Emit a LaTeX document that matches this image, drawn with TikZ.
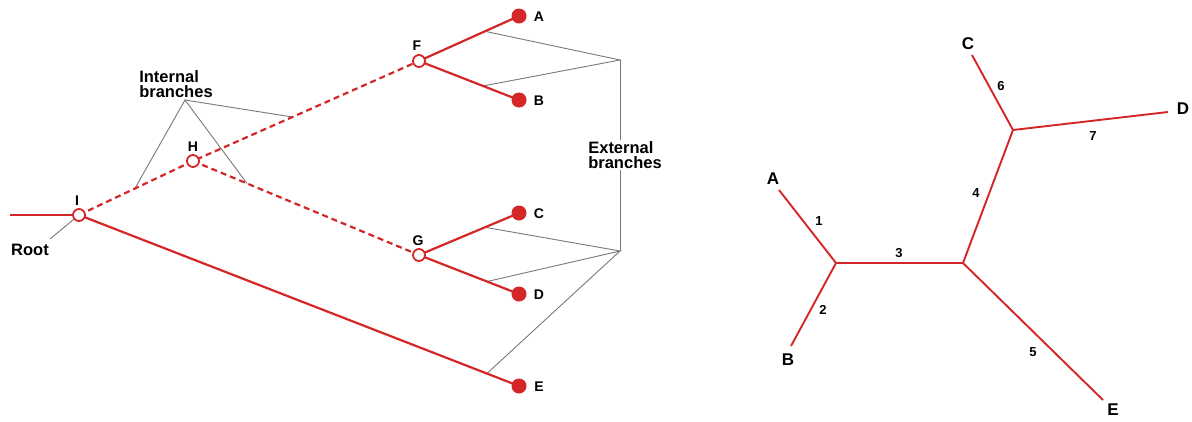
\documentclass[tikz,border=0pt]{standalone}
\usepackage{fontspec}
\setmainfont{Liberation Sans}
\usetikzlibrary{calc}
\definecolor{treered}{RGB}{212,38,38}
\definecolor{guide}{RGB}{120,120,120}
\tikzset{
  branch/.style={draw=treered, line width=2.2pt},
  dashbranch/.style={branch, dash pattern=on 6pt off 4pt},
  guideline/.style={draw=guide, line width=0.9pt},
  inner/.style={circle, draw=treered, fill=white, line width=1.8pt, minimum size=12pt, inner sep=0pt},
  leaf/.style={circle, fill=treered, minimum size=15pt, inner sep=0pt},
  tag/.style={font=\bfseries\fontsize{14}{15}\selectfont, inner sep=1pt},
  note/.style={font=\bfseries\fontsize{16.5}{15}\selectfont, inner sep=1pt, align=left},
  bigtag/.style={font=\bfseries\fontsize{17}{18}\selectfont, inner sep=1pt},
  num/.style={font=\bfseries\fontsize{13}{14}\selectfont, inner sep=1pt},
  utree/.style={draw=treered, line width=1.9pt}
}
\begin{document}
\begin{tikzpicture}[x=1pt,y=-1pt]
\useasboundingbox (0,0) rectangle (1192,421);

% ---------- rooted tree ----------
\coordinate (rootend) at (10,215);
\coordinate (I) at (79,215);
\coordinate (H) at (193,161);
\coordinate (F) at (419,61);
\coordinate (G) at (419,255);
\coordinate (A) at (519,16);
\coordinate (B) at (519,100);
\coordinate (C) at (519,213);
\coordinate (D) at (519,294);
\coordinate (E) at (519,386);

% points on the branches used by the guide lines
\coordinate (fa) at ($(F)!0.66!(A)$);
\coordinate (fb) at ($(F)!0.64!(B)$);
\coordinate (gc) at ($(G)!0.66!(C)$);
\coordinate (gd) at ($(G)!0.68!(D)$);
\coordinate (ie) at ($(I)!0.927!(E)$);
\coordinate (ih) at ($(I)!0.49!(H)$);
\coordinate (hf) at ($(H)!0.44!(F)$);
\coordinate (hg) at ($(H)!0.239!(G)$);
\coordinate (intapex) at (185,100);
\coordinate (extapex) at (620,60);
\coordinate (extbase) at (620,251);
\coordinate (rootpt) at (50,239);

% guide lines
\draw[guideline] (ih) -- (intapex) -- (hg);
\draw[guideline] (intapex) -- (hf);
\draw[guideline] (fa) -- (extapex) -- (fb);
\draw[guideline] (extapex) -- (extbase);
\draw[guideline] (gc) -- (extbase) -- (gd);
\draw[guideline] (extbase) -- (ie);
\draw[guideline] (I) -- (rootpt);

% labels
\node[note] (intlbl) at (176,84) {Internal\\branches};
\node[note, fill=white] (extlbl) at (625,155) {External\\branches};
\node[note] (rootlbl) at (30,250) {Root};

% branches
\draw[branch] (rootend) -- (I);
\draw[dashbranch] (I) -- (H) -- (F);
\draw[dashbranch] (H) -- (G);
\draw[branch] (I) -- (E);
\draw[branch] (A) -- (F) -- (B);
\draw[branch] (C) -- (G) -- (D);

% nodes
\node[inner] (nI) at (I) {};
\node[inner] (nH) at (H) {};
\node[inner] (nF) at (F) {};
\node[inner] (nG) at (G) {};
\node[leaf] (nA) at (A) {};
\node[leaf] (nB) at (B) {};
\node[leaf] (nC) at (C) {};
\node[leaf] (nD) at (D) {};
\node[leaf] (nE) at (E) {};

\node[tag] (lI) at (77,201) {I};
\node[tag] (lH) at (193,147) {H};
\node[tag] (lF) at (417,46) {F};
\node[tag] (lG) at (418,241) {G};
\node[tag] (lA) at (539,17) {A};
\node[tag] (lB) at (539,101) {B};
\node[tag] (lC) at (539,214) {C};
\node[tag] (lD) at (539,295) {D};
\node[tag] (lE) at (539,387) {E};

% ---------- unrooted tree ----------
\coordinate (uA) at (779,190);
\coordinate (uB) at (791,346);
\coordinate (uC) at (972,55);
\coordinate (uD) at (1168,112);
\coordinate (uE) at (1103,400);
\coordinate (uAB) at (836,263);
\coordinate (uX) at (963,263);
\coordinate (uCD) at (1013,130);

\draw[utree] (uA) -- (uAB) -- (uB);
\draw[utree] (uAB) -- (uX) -- (uE);
\draw[utree] (uX) -- (uCD) -- (uC);
\draw[utree] (uCD) -- (uD);

\node[bigtag] (tA) at (773,179) {A};
\node[bigtag] (tB) at (788,360) {B};
\node[bigtag] (tC) at (968,44) {C};
\node[bigtag] (tD) at (1183,109) {D};
\node[bigtag] (tE) at (1113,410) {E};

\node[num] (n1) at (819,221) {1};
\node[num] (n2) at (823,310) {2};
\node[num] (n3) at (899,253) {3};
\node[num] (n4) at (976,193) {4};
\node[num] (n5) at (1033,352) {5};
\node[num] (n6) at (1001,86) {6};
\node[num] (n7) at (1093,136) {7};
\end{tikzpicture}
\end{document}
